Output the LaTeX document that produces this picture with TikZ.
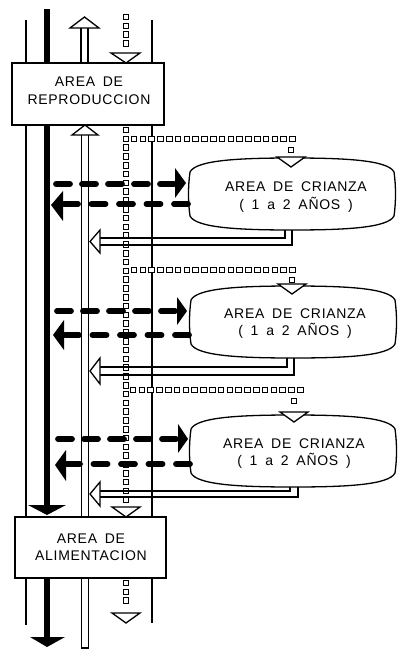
\documentclass[tikz,border=0pt]{standalone}
\usepackage{fontspec}
\newfontfamily\cadfont[LetterSpace=5,WordSpace=1.7]{Liberation Sans}
\usetikzlibrary{decorations.markings}
\begin{document}
\begin{tikzpicture}[x=1pt,y=-1pt,
  vline/.style={line width=1.6pt},
  bar/.style={line width=6.5pt},
  hol/.style={line width=1.4pt},
  tri/.style={draw, fill=white, line width=1.3pt, line join=miter},
  dsh/.style={line width=5.8pt, line cap=round, dash pattern=on 14pt off 12pt},
  dshb/.style={line width=5.8pt, line cap=round, dash pattern=on 14pt off 13.5pt},
  boxst/.style={draw, fill=white, line width=2.2pt, inner sep=0pt},
  ell/.style={draw, fill=white, line width=1.3pt},
  txt/.style={font=\cadfont\fontsize{14}{17.5}\selectfont, align=center, inner sep=0pt},
  sqchain/.style={decorate, decoration={markings, mark=between positions 0 and 1 step 8.8pt with {\draw[line width=0.9pt, fill=white] (-2.8pt,-2.8pt) rectangle (2.8pt,2.8pt);}}}
]
\useasboundingbox (0,0) rectangle (400,655);

% thin vertical lines
\coordinate (lt) at (26,20); \coordinate (lb) at (26,625);
\coordinate (rt) at (152,20); \coordinate (rb) at (152,623);
\draw[vline] (lt) -- (lb);
\draw[vline] (rt) -- (rb);

% thick bar
\coordinate (bt) at (47,9); \coordinate (bm) at (47,506);
\draw[bar] (bt) -- (bm);
\fill (28,505) -- (66,505) -- (47,515) -- cycle;
\coordinate (bb1) at (47,578); \coordinate (bb2) at (47,638);
\draw[bar] (bb1) -- (bb2);
\fill (30,637) -- (65,637) -- (47,647) -- cycle;

% hollow up arrow
\draw[hol] (81,63) -- (81,28) (88,63) -- (88,28);
\draw[tri] (70,28) -- (84.5,17) -- (99,28) -- cycle;
\draw[hol] (81.5,135) -- (81.5,648) -- (88.5,648) -- (88.5,135);
\draw[tri] (72,135) -- (85,125) -- (98,135) -- cycle;

% main square chain
\path[sqchain] (126,17) -- (126,48);
\draw[tri] (111,53) -- (126,63) -- (140,53) -- cycle;
\path[sqchain] (126,130) -- (126,503);
\draw[tri] (112,507) -- (126,517) -- (140,507) -- cycle;
\path[sqchain] (126,583) -- (126,609);
\draw[tri] (112,613) -- (126,623) -- (140,613) -- cycle;

% return arrows
\draw[hol] (285,225) -- (285,238) -- (100,238);
\draw[hol] (292,225) -- (292,245) -- (100,245);
\draw[tri] (100,230) -- (90,241.5) -- (100,253) -- cycle;
\draw[hol] (287,350) -- (287,367) -- (100,367);
\draw[hol] (294,350) -- (294,375) -- (100,375);
\draw[tri] (100,358) -- (90,371) -- (100,384) -- cycle;
\draw[hol] (290,480) -- (290,491) -- (100,491);
\draw[hol] (298,480) -- (298,497) -- (100,497);
\draw[tri] (100,482) -- (90,494) -- (100,506) -- cycle;

% ellipses
\foreach \sx/\sy in {190/158, 191/286, 191/415}{
  \begin{scope}[shift={(\sx,\sy)}]
  \draw[ell] (0,14) .. controls (6,2) and (50,0) .. (102,0) .. controls (154,0) and (198,2) .. (204,14)
    .. controls (206,28) and (206,44) .. (204,58) .. controls (198,70) and (154,72) .. (102,72)
    .. controls (50,72) and (6,70) .. (0,58) .. controls (-2,44) and (-2,28) .. (0,14) -- cycle;
  \end{scope}
}

% branch chains
\path[sqchain] (134,139) -- (293,139);
\path[sqchain] (291,150) -- (291,151);
\draw[tri] (277,157) -- (291,167) -- (305,157) -- cycle;
\path[sqchain] (134,270) -- (293,270);
\path[sqchain] (292,280) -- (292,281);
\draw[tri] (278,284) -- (292,294) -- (306,284) -- cycle;
\path[sqchain] (133,390) -- (301,390);
\path[sqchain] (294,401) -- (294,402);
\draw[tri] (280,412) -- (294,422) -- (308,412) -- cycle;

% texts in ellipses
\node[txt] (e1) at (296,197) {AREA DE CRIANZA\\( 1 a 2 AÑOS )};
\node[txt] (e2) at (295,323.5) {AREA DE CRIANZA\\( 1 a 2 AÑOS )};
\node[txt] (e3) at (294,453.5) {AREA DE CRIANZA\\( 1 a 2 AÑOS )};

% dashed arrows
\draw[dsh] (56,184) -- (174,184);
\fill (175,168) -- (186,183) -- (175,198) -- cycle;
\draw[dshb] (188,204) -- (64,204);
\fill (63,191) -- (51,205) -- (63,221) -- cycle;
\draw[dsh] (57,311) -- (175,311);
\fill (177,297) -- (187,311) -- (177,325) -- cycle;
\draw[dshb] (189,335) -- (65,335);
\fill (64,320) -- (53,335) -- (64,350) -- cycle;
\draw[dsh] (58,439) -- (176,439);
\fill (178,424) -- (188,439) -- (178,453) -- cycle;
\draw[dshb] (190,464) -- (66,464);
\fill (66,450) -- (55,465) -- (66,481) -- cycle;

% boxes
\node[boxst, minimum width=152, minimum height=62] (repro) at (88,94) {};
\node[txt] (reprot) at (89,91) {AREA DE\\REPRODUCCION};
\node[boxst, minimum width=151, minimum height=61] (alim) at (90.5,547.5) {};
\node[txt] (alimt) at (91,547) {AREA DE\\ALIMENTACION};
\end{tikzpicture}
\end{document}
